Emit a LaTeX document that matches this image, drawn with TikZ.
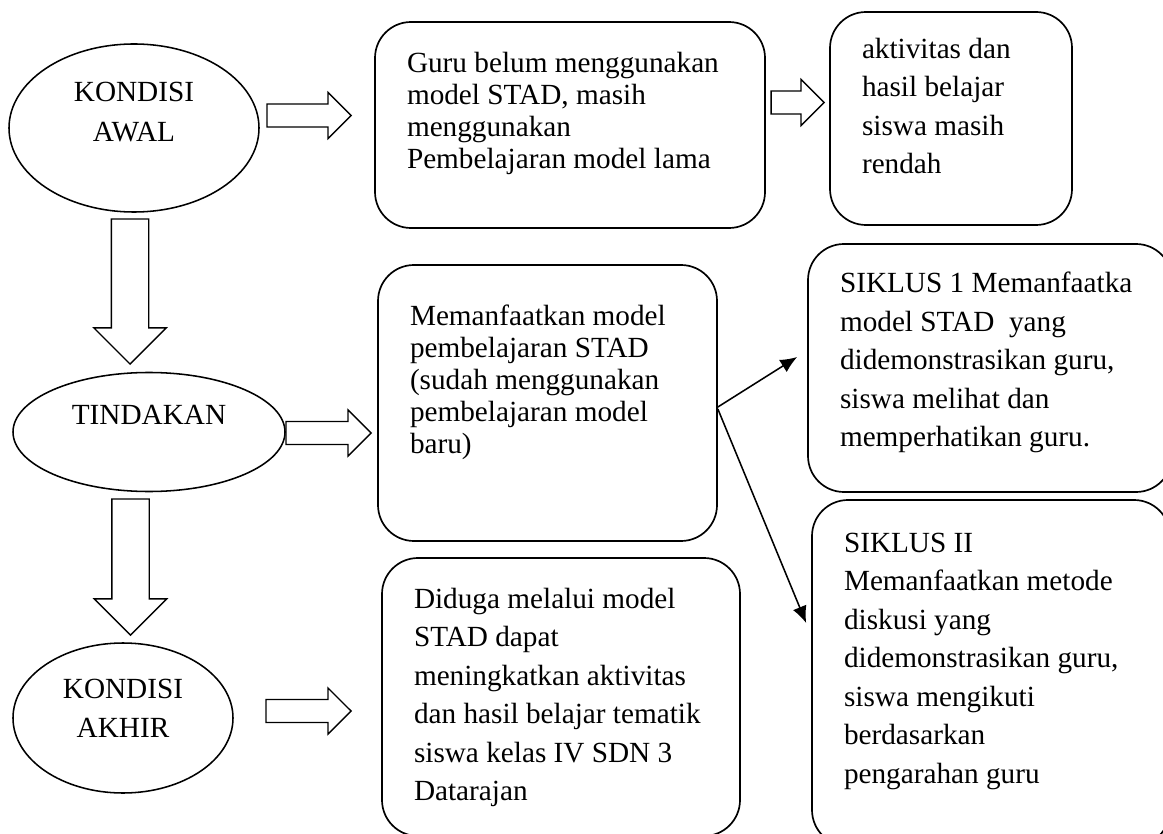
\documentclass[tikz,border=0pt]{standalone}
\usepackage{fontspec}
\setmainfont{Liberation Serif}
\usetikzlibrary{arrows.meta,shapes.geometric,shapes.arrows}

\newcommand{\isi}[4]{\parbox[c][#2][t]{#1}{\vspace*{#3}\raggedright\leftskip=0.4cm #4}}

\begin{document}
\begin{tikzpicture}[>={Latex[length=0.42cm,width=0.36cm]},
  oval/.style={draw,ellipse,line width=1.1pt,inner sep=0pt,align=center,
    font=\fontsize{20.8}{28}\selectfont},
  kotak/.style={draw,rectangle,rounded corners=0.9cm,line width=1.2pt,
    inner xsep=0.4cm,inner ysep=0pt},
  rapat/.style={font=\fontsize{20.8}{22.8}\selectfont},
  renggang/.style={font=\fontsize{20.8}{27.4}\selectfont},
  panah/.style={draw,single arrow,line width=0.9pt,inner xsep=0pt,inner ysep=0.27cm,
    single arrow head extend=0.29cm,single arrow tip angle=90,anchor=tip},
  panahbawah/.style={panah,inner ysep=0.45cm,single arrow head extend=0.44cm,rotate=-90}]
  \useasboundingbox (0,0) rectangle (29.075,-20.85);

  % 椭圆
  \node[oval,minimum width=6.25cm,minimum height=4.2cm,text depth=0.8cm] (awal) at (3.35,-3.2) {KONDISI\\AWAL};
  \node[oval,minimum width=6.8cm,minimum height=2.975cm,text depth=0.85cm] (tindakan) at (3.725,-10.8) {TINDAKAN};
  \node[oval,minimum width=5.5cm,minimum height=3.75cm,text depth=0.5cm] (akhir) at (3.075,-17.95) {KONDISI\\AKHIR};

  % 圆角框
  \node[kotak,rapat] (guru) at (14.25,-3.125) {\isi{8.95cm}{5.15cm}{0.75cm}{Guru belum menggunakan\\model STAD, masih\\menggunakan\\Pembelajaran model lama}};
  \node[kotak,renggang] (rendah) at (23.775,-2.9625) {\isi{5.25cm}{5.325cm}{0.65cm}{aktivitas dan\\hasil belajar\\siswa masih\\rendah}};
  \node[kotak,rapat] (stad) at (13.6875,-10.075) {\isi{7.675cm}{6.9cm}{1.0cm}{Memanfaatkan model\\pembelajaran STAD\\(sudah menggunakan\\pembelajaran model\\baru)}};
  \node[kotak,renggang] (dugaan) at (14.025,-17.425) {\isi{8.15cm}{6.95cm}{0.75cm}{Diduga melalui model\\STAD dapat\\meningkatkan aktivitas\\dan hasil belajar tematik\\siswa kelas IV SDN 3\\Datarajan}};
  \node[kotak,renggang] (siklus1) at (24.75,-9.2) {\isi{8.3cm}{6.2cm}{0.7cm}{SIKLUS 1 Memanfaatka\\model STAD\ \ yang\\didemonstrasikan guru,\\siswa melihat dan\\memperhatikan guru.}};
  \node[kotak,renggang] (siklus2) at (24.775,-16.825) {\isi{8.15cm}{8.65cm}{0.825cm}{SIKLUS II\\Memanfaatkan metode\\diskusi yang\\didemonstrasikan guru,\\siswa mengikuti\\berdasarkan\\pengarahan guru}};

  % 空心箭头（以箭尖定位）
  \node[panah,minimum height=2.1cm] (p1) at (8.8,-2.8875) {};
  \node[panah,minimum height=1.325cm] (p2) at (20.625,-2.5625) {};
  \node[panah,minimum height=2.125cm] (p3) at (9.3,-10.825) {};
  \node[panah,minimum height=2.125cm] (p4) at (8.8,-17.775) {};
  \node[panahbawah,minimum height=3.625cm] (p5) at (3.25,-9.125) {};
  \node[panahbawah,minimum height=3.4cm] (p6) at (3.2625,-15.9) {};

  % 细箭头
  \draw[->,line width=1.1pt] ([yshift=-0.1cm]stad.east) -- ([xshift=-0.25cm,yshift=0.275cm]siklus1.west);
  \draw[->,line width=1.1pt] ([yshift=-0.15cm]stad.east) -- ([xshift=-0.125cm,yshift=1.25cm]siklus2.west);
\end{tikzpicture}
\end{document}
